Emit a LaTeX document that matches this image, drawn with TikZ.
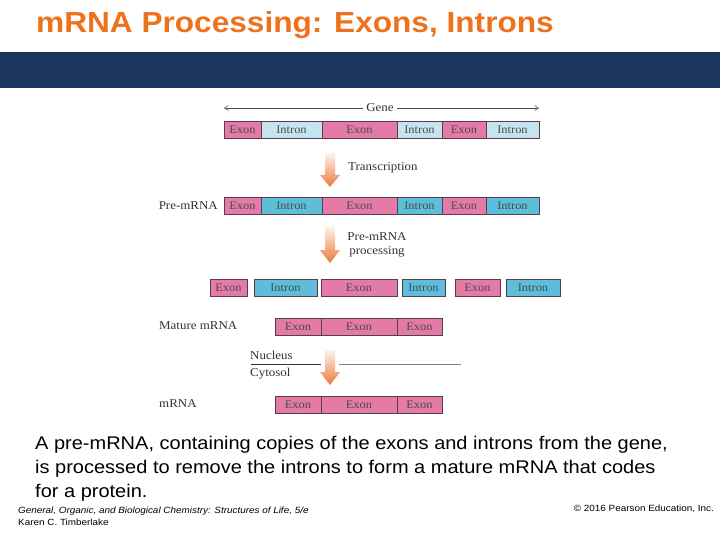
\documentclass[tikz,border=0pt]{standalone}
\usepackage{fontspec}
\setmainfont{Liberation Serif}[FakeStretch=1.08]
\newfontfamily\arialf{Liberation Sans}[FakeStretch=1.09]
\newfontfamily\arialfoot{Liberation Sans}[FakeStretch=1.1]
\usetikzlibrary{arrows.meta}
\definecolor{titleorange}{RGB}{238,114,28}
\definecolor{bandblue}{RGB}{27,54,93}
\definecolor{exonpink}{RGB}{228,122,166}
\definecolor{intronlight}{RGB}{196,228,240}
\definecolor{introncyan}{RGB}{92,190,218}
\definecolor{boxline}{RGB}{90,60,75}
\definecolor{arroworange}{RGB}{236,120,60}
\newcommand\fatarrow[4]{%
  \shade[top color=arroworange!8, bottom color=arroworange]
    (#1-5,#2) -- (#1+5,#2) -- (#1+5,#3) -- (#1+10,#3) -- (#1,#4) -- (#1-10,#3) -- (#1-5,#3) -- cycle;}
\tikzset{
  seg/.style={draw=boxline, line width=0.6pt, minimum height=17, inner sep=0, font=\fontsize{11.5}{12}\selectfont, text=black!70},
  exon/.style={seg, fill=exonpink},
  intronA/.style={seg, fill=intronlight},
  intronB/.style={seg, fill=introncyan},
  lbl/.style={font=\fontsize{12}{14}\selectfont, text=black!80, inner sep=0},
  captxt/.style={anchor=base west, inner sep=0, font=\arialf\fontsize{18.35}{24}\selectfont},
  foottxt/.style={inner sep=0, font=\arialfoot\fontsize{9}{12}\selectfont},
}
\begin{document}
\begin{tikzpicture}[x=1pt,y=-1pt]
\useasboundingbox (0,0) rectangle (720,540);
\fill[white] (0,0) rectangle (720,540);
% title and band
\node[anchor=base west, inner sep=0, text=titleorange, font=\arialf\bfseries\fontsize{29}{30}\selectfont] (title) at (36,33) {mRNA Processing: Exons, Introns};
\fill[bandblue] (0,52) rectangle (720,88);
% gene
\coordinate (gl) at (224,108);
\coordinate (gr) at (539,108);
\draw[{Straight Barb[length=4pt,width=5pt]}-{Straight Barb[length=4pt,width=5pt]}, line width=0.5pt, black!70] (gl) -- (gr);
\node[lbl, fill=white, inner xsep=3pt] (gene) at (380,108) {Gene};
\node[exon, minimum width=37] (g1) at (242.5,129.5) {Exon};
\node[intronA, minimum width=61] (g2) at (291.5,129.5) {Intron};
\node[exon, minimum width=75] (g3) at (359.5,129.5) {Exon};
\node[intronA, minimum width=45] (g4) at (419.5,129.5) {Intron};
\node[exon, minimum width=44] (g5) at (464,129.5) {Exon};
\node[intronA, minimum width=53] (g6) at (512.5,129.5) {Intron};
% transcription
\fatarrow{330}{153}{175}{187}
\node[lbl, anchor=west] (tr) at (348,168) {Transcription};
% pre-mRNA
\node[lbl, anchor=east] (prel) at (218,206) {Pre-mRNA};
\node[exon, minimum width=37] (p1) at (242.5,206) {Exon};
\node[intronB, minimum width=61] (p2) at (291.5,206) {Intron};
\node[exon, minimum width=75] (p3) at (359.5,206) {Exon};
\node[intronB, minimum width=45] (p4) at (419.5,206) {Intron};
\node[exon, minimum width=44] (p5) at (464,206) {Exon};
\node[intronB, minimum width=53] (p6) at (512.5,206) {Intron};
% processing
\fatarrow{330}{226}{250}{263}
\node[lbl, align=center] (proc) at (377,245) {Pre-mRNA\\processing};
% separated
\node[exon, minimum width=37] (s1) at (228.5,287.5) {Exon};
\node[intronB, minimum width=63] (s2) at (285.5,287.5) {Intron};
\node[exon, minimum width=76] (s3) at (359,287.5) {Exon};
\node[intronB, minimum width=43] (s4) at (423.5,287.5) {Intron};
\node[exon, minimum width=45] (s5) at (477.5,287.5) {Exon};
\node[intronB, minimum width=54] (s6) at (533,287.5) {Intron};
% mature
\node[lbl, anchor=west] (matl) at (159,326) {Mature mRNA};
\node[exon, minimum width=46] (m1) at (298,327) {Exon};
\node[exon, minimum width=76] (m2) at (359,327) {Exon};
\node[exon, minimum width=45] (m3) at (419.5,327) {Exon};
% nucleus / cytosol
\coordinate (n1) at (251,364);
\coordinate (n2) at (321,364);
\coordinate (n3) at (339,364);
\coordinate (n4) at (461,364);
\draw[line width=0.9pt, black!80] (n1) -- (n2);
\draw[line width=0.5pt, black!50] (n3) -- (n4);
\node[lbl, anchor=west] (nuc) at (250,355) {Nucleus};
\node[lbl, anchor=west] (cyt) at (250,374) {Cytosol};
\fatarrow{330}{350}{372}{385}
% mRNA
\node[lbl, anchor=west] (mrl) at (159,404) {mRNA};
\node[exon, minimum width=46] (r1) at (298,405) {Exon};
\node[exon, minimum width=76] (r2) at (359,405) {Exon};
\node[exon, minimum width=45] (r3) at (419.5,405) {Exon};
% caption
\node[captxt] (cap1) at (35,449) {A pre-mRNA, containing copies of the exons and introns from the gene,};
\node[captxt] (cap2) at (35,473) {is processed to remove the introns to form a mature mRNA that codes};
\node[captxt] (cap3) at (35,497) {for a protein.};
% footer
\node[foottxt, anchor=base west] (foot1) at (18,513) {\itshape General, Organic, and Biological Chemistry: Structures of Life, 5/e};
\node[foottxt, anchor=base west] (foot2) at (18,525) {Karen C. Timberlake};
\node[foottxt, anchor=base east] (copy) at (714,511) {\textcopyright{} 2016 Pearson Education, Inc.};
\end{tikzpicture}
\end{document}
